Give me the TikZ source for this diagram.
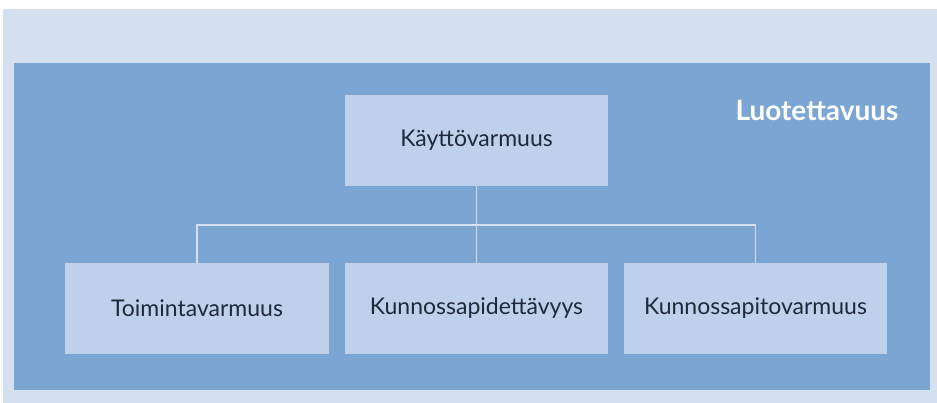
\documentclass[tikz,border=0pt]{standalone}
\usepackage{fontspec}
\setmainfont{Lato}
\definecolor{pagebg}{HTML}{D4E0EF}
\definecolor{panel}{HTML}{7BA5D2}
\definecolor{boxfill}{HTML}{BED0EA}
\definecolor{txt}{HTML}{1F2A3A}
\tikzset{
  boxnode/.style={fill=boxfill, draw=none, minimum width=263pt, minimum height=91pt, inner sep=0pt, font=\fontsize{23}{27}\selectfont, text=txt},
  link/.style={draw=pagebg, line width=1.5pt}
}
\begin{document}
\begin{tikzpicture}[x=1pt,y=-1pt]
\useasboundingbox (0,0) rectangle (937,403);
\fill[white] (0,0) rectangle (937,403);
\fill[pagebg] (3,9) rectangle (937,403);
\fill[panel] (14,63) rectangle (930,390);
\node[anchor=center, text=white, font=\fontsize{28}{32}\selectfont\bfseries] (title) at (817,110) {Luotettavuus};
\node[boxnode] (top) at (476.5,140.5) {Käyttövarmuus};
\node[boxnode, minimum width=264pt] (b1) at (197,308.5) {Toimintavarmuus};
\node[boxnode] (b2) at (476.5,308.5) {Kunnossapidettävyys};
\node[boxnode] (b3) at (755.5,308.5) {Kunnossapitovarmuus};
\coordinate (bar) at (476.5,225);
\draw[link] (top.south) -- (bar);
\draw[link] (b1.north) |- (bar) -| (b3.north);
\draw[link] (bar) -- (b2.north);
\end{tikzpicture}
\end{document}
